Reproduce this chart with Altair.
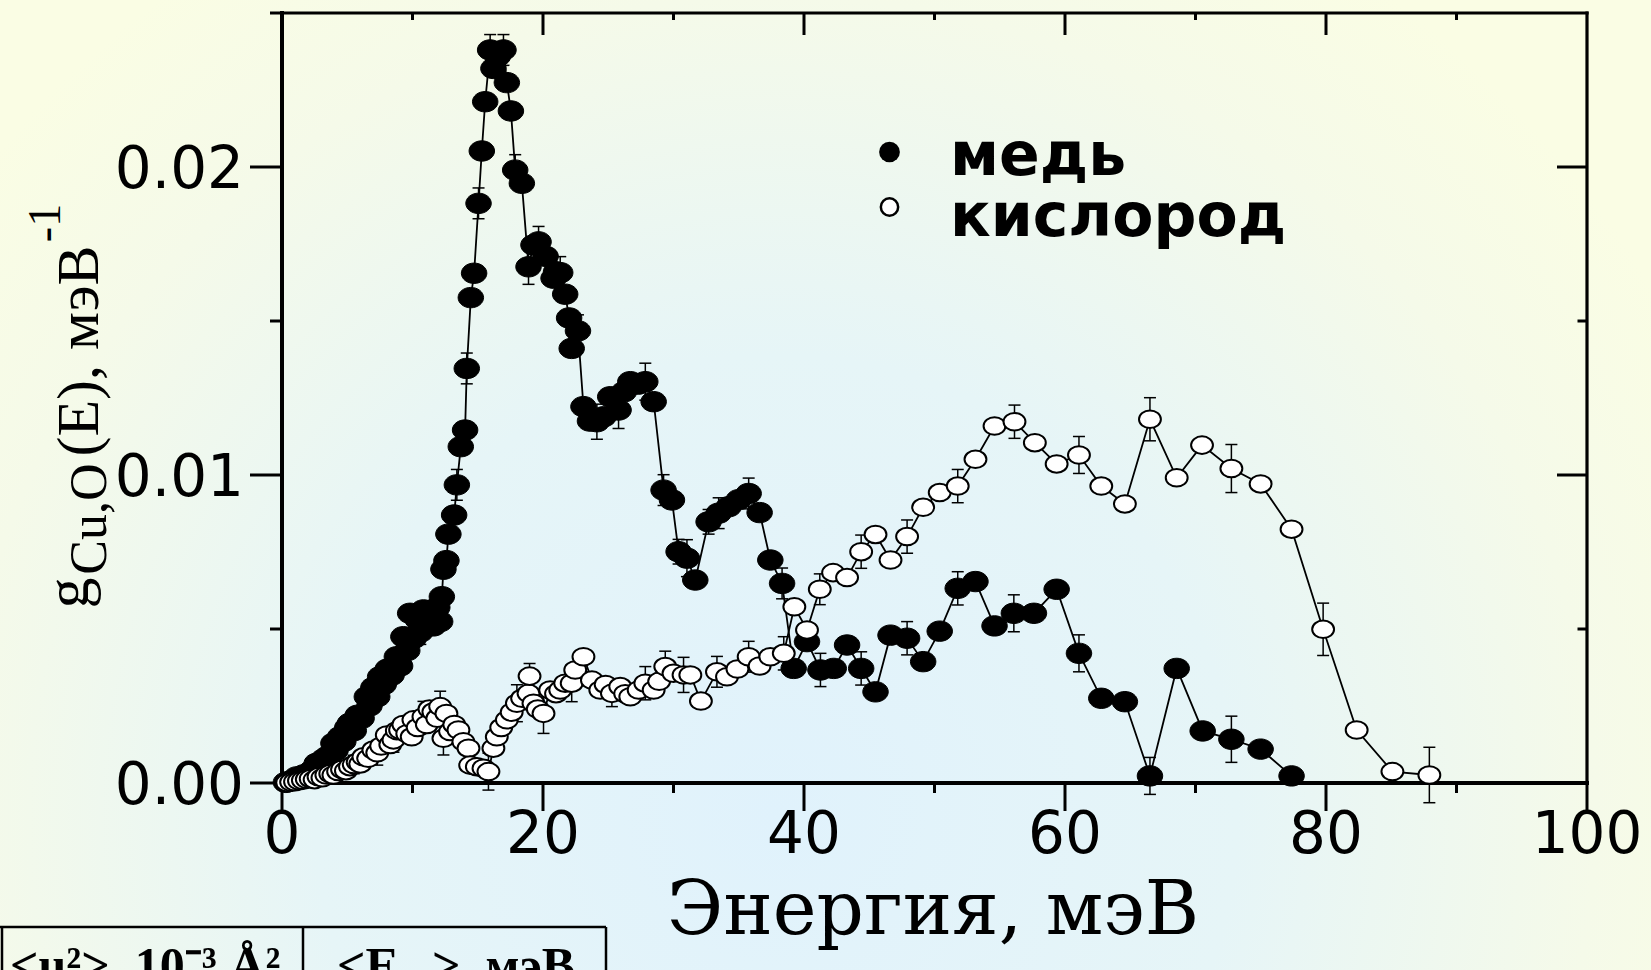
import altair as alt
import pandas as pd

# ---------------- data ----------------
cu_E = [0.3, 0.6, 0.9, 1.13, 1.4, 1.7, 2.0, 2.3, 2.66, 2.9, 3.2, 3.5, 3.94, 4.1, 4.45, 4.7,
        5.0, 5.21, 5.5, 5.8, 6.1, 6.5, 6.7, 7.0, 7.3, 7.52, 7.8, 8.1, 8.4, 8.8, 9.05, 9.3,
        9.6, 9.82, 10.1, 10.4, 10.6, 10.84, 11.1, 11.4, 11.6, 11.9, 12.12, 12.25, 12.37,
        12.6, 12.75, 13.19, 13.4, 13.7, 14.03, 14.16, 14.47, 14.72, 15.06, 15.31, 15.57,
        15.95, 16.2, 16.55, 16.97, 17.23, 17.54, 17.87, 18.38, 18.89, 19.27, 19.66, 20.2,
        20.81, 21.0, 21.32, 21.7, 22.0, 22.2, 22.68, 23.1, 23.6, 24.13, 24.64, 25.15, 25.79,
        26.2, 26.69, 27.3, 27.84, 28.48, 29.24, 29.88, 30.39, 31.03, 31.67, 32.69, 33.46,
        34.23, 35.0, 35.76, 36.6, 37.42, 38.32, 39.21, 40.23, 41.26, 42.28, 43.3, 44.38,
        45.48, 46.63, 47.9, 49.13, 50.4, 51.78, 53.14, 54.6, 56.08, 57.62, 59.36, 61.07,
        62.78, 64.59, 66.51, 68.56, 70.55, 72.75, 74.99, 77.36]
cu_g = [0.00002, 0.00006, 0.00009, 0.0002, 0.00016, 0.00027, 0.0003, 0.00041, 0.00064,
        0.00052, 0.00078, 0.00087, 0.00129, 0.00105, 0.0015, 0.00135, 0.0018, 0.00194,
        0.0017, 0.0022, 0.0021, 0.0028, 0.0025, 0.0031, 0.0028, 0.00345, 0.0032, 0.0037,
        0.0035, 0.0041, 0.0038, 0.00475, 0.0043, 0.00551, 0.0047, 0.0053, 0.0049, 0.00562,
        0.0052, 0.0056, 0.0051, 0.0057, 0.00524, 0.00605, 0.00694, 0.00722, 0.00808,
        0.0087, 0.00968, 0.01092, 0.01146, 0.01346, 0.01576, 0.01655, 0.01882, 0.02052,
        0.02212, 0.0238, 0.0232, 0.0236, 0.0238, 0.02274, 0.02182, 0.0199, 0.01947,
        0.01676, 0.01747, 0.01757, 0.0171, 0.01639, 0.0166, 0.01657, 0.01587, 0.0151,
        0.01411, 0.01468, 0.01222, 0.01175, 0.01173, 0.01189, 0.01254, 0.01211, 0.0127,
        0.01303, 0.01295, 0.01303, 0.01238, 0.00951, 0.00919, 0.00751, 0.0073, 0.00659,
        0.00848, 0.00876, 0.00897, 0.0092, 0.0094, 0.00878, 0.00724, 0.00648, 0.00372,
        0.00459, 0.00367, 0.00372, 0.00448, 0.00372, 0.00296, 0.0048, 0.0047, 0.00394,
        0.00493, 0.00632, 0.00654, 0.0051, 0.00551, 0.00551, 0.00629, 0.00421, 0.00275,
        0.00264, 0.00023, 0.00372, 0.00169, 0.00142, 0.0011, 0.00023]

o_E = [0.4, 0.7, 1.0, 1.3, 1.6, 1.9, 2.2, 2.5, 2.8, 3.1, 3.4, 3.7, 3.94, 4.3, 4.6, 4.9,
       5.21, 5.5, 5.8, 6.0, 6.24, 6.6, 7.0, 7.3, 7.6, 8.03, 8.3, 8.54, 8.8, 9.05, 9.3, 9.6,
       9.94, 10.07, 10.4, 10.84, 11.1, 11.3, 11.6, 11.9, 12.12, 12.37, 12.6, 12.88, 13.2,
       13.52, 13.9, 14.29, 14.42, 14.93, 15.44, 15.82, 16.2, 16.46, 16.8, 17.23, 17.6,
       18.0, 18.4, 18.89, 18.97, 19.27, 19.6, 20.04, 20.55, 21.0, 21.32, 21.7, 22.2,
       22.47, 23.1, 23.75, 24.39, 24.8, 25.28, 25.92, 26.3, 26.69, 27.33, 27.84, 28.48,
       28.9, 29.37, 30.0, 30.77, 31.29, 32.1, 33.33, 34.1, 34.9, 35.76, 36.6, 37.42,
       38.45, 39.26, 40.23, 41.21, 42.23, 43.3, 44.38, 45.48, 46.63, 47.9, 49.13, 50.4,
       51.78, 53.14, 54.6, 56.13, 57.69, 59.36, 61.07, 62.78, 64.59, 66.51, 68.56, 70.5,
       72.75, 74.99, 77.36, 79.78, 82.35, 85.09, 87.92]
o_g = [0.00001, 0.00003, 0.00004, 0.00007, 0.00009, 0.00012, 0.00014, 0.00011, 0.0002,
       0.00017, 0.00026, 0.0003, 0.00026, 0.00037, 0.00044, 0.0004, 0.00053, 0.0006,
       0.00068, 0.00062, 0.00085, 0.0008, 0.00107, 0.00098, 0.0012, 0.00156, 0.00125,
       0.0014, 0.0017, 0.00172, 0.0019, 0.0016, 0.0015, 0.00205, 0.0018, 0.00215, 0.0019,
       0.0024, 0.00231, 0.0021, 0.00248, 0.00145, 0.00226, 0.00167, 0.0019, 0.00172,
       0.00134, 0.00113, 0.00058, 0.00053, 0.00048, 0.00037, 0.00113, 0.0015, 0.0018,
       0.00205, 0.0023, 0.00259, 0.00275, 0.00291, 0.00347, 0.00259, 0.0024, 0.00226,
       0.00302, 0.0029, 0.00302, 0.00324, 0.00324, 0.00367, 0.0041, 0.00334, 0.00302,
       0.0032, 0.00291, 0.00313, 0.0029, 0.0028, 0.00302, 0.00324, 0.00302, 0.0033,
       0.00378, 0.00356, 0.00351, 0.00351, 0.00266, 0.00361, 0.00345, 0.0037, 0.0041,
       0.0038, 0.0041, 0.00421, 0.00572, 0.00497, 0.00629, 0.00683, 0.00667, 0.00751,
       0.00807, 0.00724, 0.008, 0.00895, 0.00943, 0.00964, 0.01051, 0.01159, 0.01173,
       0.01105, 0.01036, 0.01065, 0.00964, 0.00906, 0.01181, 0.00991, 0.01097, 0.01021,
       0.00971, 0.00824, 0.00499, 0.00172, 0.00037, 0.00026]

# error bars (energy of the point, half-length)
cu_err_E = [10.6, 11.1, 11.9, 13.4, 14.16, 15.06, 15.95, 16.97, 17.87, 18.89, 19.66, 21.32,
            22.68, 24.13, 25.79, 27.84, 29.24, 30.39, 31.03, 32.69, 33.46, 35.76, 38.32,
            41.26, 44.38, 47.9, 51.78, 56.08, 61.07, 66.51, 72.75]
cu_err_d = [0.0004, 0.0004, 0.0004, 0.0005, 0.0005, 0.0005, 0.0005, 0.0005, 0.0005, 0.00057,
            0.0005, 0.00052, 0.00052, 0.00057, 0.0006, 0.0006, 0.0005, 0.0004, 0.0006, 0.0004,
            0.0005, 0.0005, 0.0005, 0.00054, 0.00054, 0.00054, 0.00054, 0.0006, 0.0006,
            0.0006, 0.00075]
o_err_E = [5.5, 7.3, 8.54, 10.84, 12.12, 12.37, 15.82, 18.0, 18.97, 20.04, 22.2, 25.28,
           27.84, 29.37, 30.77, 33.33, 35.76, 38.45, 41.21, 44.38, 47.9, 51.78, 56.13,
           61.07, 66.51, 72.75, 79.78, 87.92]
o_err_d = [0.0003, 0.0004, 0.0004, 0.0005, 0.0005, 0.00054, 0.0006, 0.0006, 0.00041, 0.00065,
           0.0006, 0.00043, 0.00054, 0.0005, 0.00057, 0.0005, 0.0005, 0.00054, 0.0005,
           0.00054, 0.00054, 0.00054, 0.00054, 0.0006, 0.0007, 0.00078, 0.00085, 0.0009]

x_major = [0, 20, 40, 60, 80, 100]
x_labels = ["0", "20", "40", "60", "80", "100"]
x_minor = [10, 30, 50, 70, 90]
y_major = [0.0, 0.01, 0.02]
y_labels = ["0.00", "0.01", "0.02"]
y_minor = [0.005, 0.015, 0.025]

legend_labels = ["медь", "кислород"]
x_title = "Энергия, мэВ"

# ---------------- layout ----------------
W, H = 1305, 770
PL, PT = 282, 13
FULLW, FULLH = 1651, 970

cu = pd.DataFrame({"E": cu_E, "g": cu_g})
ox = pd.DataFrame({"E": o_E, "g": o_g})
cu_e = pd.DataFrame({"E": cu_err_E, "d": cu_err_d}).merge(cu, on="E")
ox_e = pd.DataFrame({"E": o_err_E, "d": o_err_d}).merge(ox, on="E")
for df in (cu_e, ox_e):
    df["lo"] = df["g"] - df["d"]
    df["hi"] = df["g"] + df["d"]

xs = alt.Scale(domain=[0, 100], nice=False, zero=False)
ys = alt.Scale(domain=[0, 0.025], nice=False, zero=False)

def X(f):
    return alt.X(f, scale=xs, axis=None)

def Y(f):
    return alt.Y(f, scale=ys, axis=None)

one = alt.Data(values=[{"a": 1}])

bg = alt.Chart(one).mark_rect(
    fill=alt.Gradient(
        gradient="radial",
        stops=[alt.GradientStop(offset=0, color="#E0F2FC"),
               alt.GradientStop(offset=0.45, color="#E6F5F7"),
               alt.GradientStop(offset=0.8, color="#F5FAE9"),
               alt.GradientStop(offset=1, color="#FAFDE4")],
        x1=0.47, y1=0.7, r1=0, x2=0.47, y2=0.7, r2=0.62)
).encode(x=alt.value(-PL), x2=alt.value(FULLW - PL), y=alt.value(-PT), y2=alt.value(FULLH - PT))

def rules_x(vals, y0, y1, w=3):
    return alt.Chart(pd.DataFrame({"v": vals})).mark_rule(color="black", strokeWidth=w).encode(
        x=X("v:Q"), y=alt.value(y0), y2=alt.value(y1))

def rules_y(vals, x0, x1, w=3):
    return alt.Chart(pd.DataFrame({"v": vals})).mark_rule(color="black", strokeWidth=w).encode(
        y=Y("v:Q"), x=alt.value(x0), x2=alt.value(x1))

def frame_rule(x0, x1, y0, y1, w=3.5):
    return alt.Chart(one).mark_rule(color="black", strokeWidth=w, strokeCap="square").encode(
        x=alt.value(x0), x2=alt.value(x1), y=alt.value(y0), y2=alt.value(y1))

frame = [
    frame_rule(0, W, 0, 0, 3.2), frame_rule(0, W, H, H, 4),
    frame_rule(0, 0, 0, H, 4), frame_rule(W, W, 0, H, 3.2),
]

ticks = [
    rules_x(x_major, H, H + 28),
    rules_x(x_minor, H, H + 10),
    rules_x(x_major[1:-1], 0, 22),
    rules_x(x_minor, 0, 7),
    rules_y(y_major, 0, -32),
    rules_y(y_minor, 0, -12),
    rules_y(y_major[1:], W, W - 30),
    rules_y(y_minor[:2], W, W - 9.5),
]

tick_labels = [
    alt.Chart(pd.DataFrame({"v": x_major, "t": x_labels})).mark_text(
        font="DejaVu Sans", fontSize=58, align="center", baseline="alphabetic", color="black"
    ).encode(x=X("v:Q"), y=alt.value(840), text="t:N"),
    alt.Chart(pd.DataFrame({"v": y_major, "t": y_labels})).mark_text(
        font="DejaVu Sans", fontSize=58, align="right", baseline="alphabetic", color="black",
        dy=21
    ).encode(y=Y("v:Q"), x=alt.value(-38), text="t:N"),
]

ELL = "M -1 0 A 1 0.8 0 1 0 1 0 A 1 0.8 0 1 0 -1 0 Z"

def series(df, edf, hollow):
    line = alt.Chart(df).mark_line(color="black", strokeWidth=1.8).encode(x=X("E:Q"), y=Y("g:Q"))
    bars = alt.Chart(edf).mark_rule(color="black", strokeWidth=1.5).encode(
        x=X("E:Q"), y=Y("lo:Q"), y2="hi:Q")
    caps = [alt.Chart(edf).mark_rule(color="black", strokeWidth=1.5, xOffset=-6, x2Offset=6).encode(
        x=X("E:Q"), x2="E:Q", y=Y(f"{c}:Q")) for c in ("lo", "hi")]
    if hollow:
        pts = alt.Chart(df).mark_point(shape=ELL, filled=True, fill="white", stroke="black",
                                       strokeWidth=2, size=480, opacity=1).encode(
            x=X("E:Q"), y=Y("g:Q"))
    else:
        pts = alt.Chart(df).mark_point(shape=ELL, filled=True, fill="black", stroke="black",
                                       strokeWidth=1, size=650, opacity=1).encode(
            x=X("E:Q"), y=Y("g:Q"))
    return [line, bars] + caps + [pts]

def txt(s, x, y, size, font="Liberation Serif", weight="normal", angle=0, align="center",
        baseline="alphabetic"):
    kw = dict(text=s, font=font, fontSize=size, fontWeight=weight, align=align,
              baseline=baseline, color="black")
    if angle:
        kw["angle"] = angle
    return alt.Chart(one).mark_text(**kw).encode(x=alt.value(x - PL), y=alt.value(y - PT))

legend = [
    alt.Chart(one).mark_point(shape="circle", filled=True, fill="black", size=430, opacity=1)
    .encode(x=alt.value(889.5 - PL), y=alt.value(152 - PT)),
    alt.Chart(one).mark_point(shape="circle", filled=True, fill="white", stroke="black",
                              strokeWidth=2.5, size=300, opacity=1)
    .encode(x=alt.value(889.5 - PL), y=alt.value(207 - PT)),
    txt(legend_labels[0], 950, 175, 60, font="DejaVu Sans", weight="bold", align="left"),
    txt(legend_labels[1], 950, 236, 60, font="DejaVu Sans", weight="bold", align="left"),
]

titles = [
    txt(x_title, 933, 934, 74, font="DejaVu Serif"),
    txt("(E), мэВ", 98, 351, 60, angle=270),
    txt("g", 88, 593, 62, angle=270),
    txt("Cu,O", 106, 519, 52, angle=270),
    txt("-1", 60, 223, 46, angle=270),
]

def hline(x0, x1, y):
    return alt.Chart(one).mark_rule(color="black", strokeWidth=2.5).encode(
        x=alt.value(x0 - PL), x2=alt.value(x1 - PL), y=alt.value(y - PT))

def vline(x, y0, y1):
    return alt.Chart(one).mark_rule(color="black", strokeWidth=2.5).encode(
        x=alt.value(x - PL), y=alt.value(y0 - PT), y2=alt.value(y1 - PT))

table = [
    hline(0, 606, 927), vline(2, 927, 975), vline(303, 927, 975), vline(606, 927, 975),
    txt("<u²>, 10⁻³ Å²", 10, 982, 50, weight="bold", align="left"),
    txt("<E", 337, 982, 50, weight="bold", align="left"),
    txt(">, мэВ", 432, 982, 50, weight="bold", align="left"),
]

layers = ([bg] + frame + ticks + tick_labels + series(cu, cu_e, False) + series(ox, ox_e, True)
          + legend + titles + table)

chart = alt.layer(*layers).properties(
    width=W, height=H,
    padding={"left": PL, "top": PT, "right": FULLW - PL - W, "bottom": FULLH - PT - H},
    autosize=alt.AutoSizeParams(type="none"),
    background="#F9FCE6",
).configure_view(strokeWidth=0)

chart.save("out.html", embed_options={"renderer": "svg", "actions": False})
